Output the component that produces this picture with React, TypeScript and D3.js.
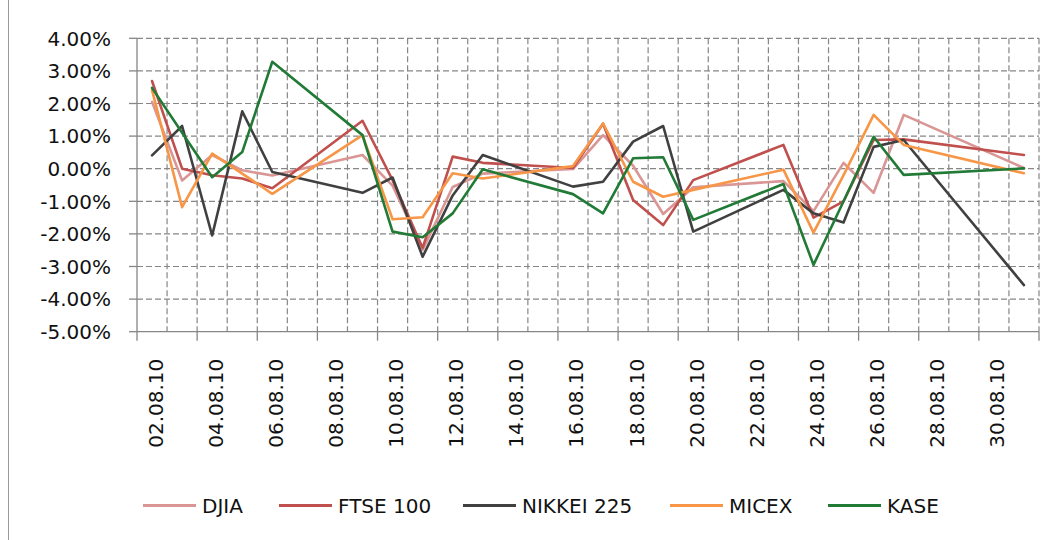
import * as d3 from 'd3';

// trading days shown on the chart (no Aug 30 in the source table)
const dates = [
  '02.08.10', '03.08.10', '04.08.10', '05.08.10', '06.08.10',
  '09.08.10', '10.08.10', '11.08.10', '12.08.10', '13.08.10',
  '16.08.10', '17.08.10', '18.08.10', '19.08.10', '20.08.10',
  '23.08.10', '24.08.10', '25.08.10', '26.08.10', '27.08.10',
  '31.08.10',
];

// daily change, %
const djia = [2.05, -0.36, 0.42, -0.05, -0.21, 0.42, -0.52, -2.49, -0.56, -0.15, -0.01, 1.03, 0.09, -1.39, -0.57, -0.38, -1.3, 0.18, -0.74, 1.65, 0.02];
const ftse = [2.69, 0.0, -0.2, -0.3, -0.6, 1.47, -0.35, -2.43, 0.37, 0.18, 0.02, 1.38, -0.96, -1.73, -0.35, 0.73, -1.5, -1.0, 0.88, 0.9, 0.42];
const nikkei = [0.41, 1.31, -2.05, 1.76, -0.1, -0.74, -0.27, -2.7, -0.82, 0.42, -0.55, -0.4, 0.83, 1.31, -1.93, -0.65, -1.37, -1.65, 0.67, 0.88, -3.57];
const micex = [2.41, -1.18, 0.46, -0.15, -0.77, 1.03, -1.55, -1.49, -0.14, -0.3, 0.08, 1.39, -0.4, -0.86, -0.65, -0.03, -1.96, -0.2, 1.65, 0.73, -0.14];
const kase = [2.48, 1.1, -0.26, 0.51, 3.28, 1.03, -1.93, -2.1, -1.37, -0.02, -0.78, -1.37, 0.32, 0.35, -1.57, -0.47, -2.95, -1.0, 0.98, -0.19, 0.01];

const seriesNames = ['DJIA', 'FTSE 100', 'NIKKEI 225', 'MICEX', 'KASE'];
const seriesValues = [djia, ftse, nikkei, micex, kase];
const seriesColors = ['#D99694', '#C0504D', '#404040', '#F79646', '#217A35'];

const yTicks = [4, 3, 2, 1, 0, -1, -2, -3, -4, -5];
const xTickLabels = [
  '02.08.10', '04.08.10', '06.08.10', '08.08.10', '10.08.10', '12.08.10', '14.08.10', '16.08.10',
  '18.08.10', '20.08.10', '22.08.10', '24.08.10', '26.08.10', '28.08.10', '30.08.10',
];

const W = 1058;
const H = 540;
const PLOT = { left: 137, right: 1039, top: 38.3, bottom: 331.7 };
const LEGEND_X = [143, 279, 463, 670, 828];
const LEGEND_Y = 505.5;
const FONT = '"DejaVu Sans", sans-serif';
const GRID = '#868686';

const parse = d3.utcParse('%d.%m.%y');
const start = parse('02.08.10') as Date;
const end = parse('01.09.10') as Date;

export default function App() {
  const x = d3.scaleUtc().domain([start, end]).range([PLOT.left, PLOT.right]);
  const y = d3.scaleLinear().domain([-5, 4]).range([PLOT.bottom, PLOT.top]);
  const mid = (d: Date) => x(d3.utcHour.offset(d, 12));

  const days = d3.utcDay.range(start, d3.utcDay.offset(end, 1));
  const majorTicks = d3.utcDay.range(start, d3.utcDay.offset(end, 1), 2);
  const parsedDates = dates.map((d) => parse(d) as Date);

  const line = d3.line<number>()
    .x((_, i) => mid(parsedDates[i]))
    .y((v) => y(v));

  const fmt = (v: number) => v.toFixed(2) + '%';

  return (
    <svg width={W} height={H} style={{ position: 'absolute', left: 0, top: 0, background: '#fff' }}>
      <rect x={0} y={0} width={W} height={H} fill="#fff" />
      <line x1={8.5} x2={8.5} y1={0} y2={H} stroke="#9a9a9a" strokeWidth={1} />

      {/* horizontal grid */}
      {yTicks.filter((t) => t !== -5).map((t) => (
        <line key={'h' + t} x1={PLOT.left} x2={PLOT.right} y1={y(t)} y2={y(t)}
          stroke={GRID} strokeWidth={1.2} strokeDasharray="6,3" />
      ))}
      {/* vertical grid, one per day */}
      {days.slice(1).map((d) => (
        <line key={'v' + d.getTime()} x1={x(d)} x2={x(d)} y1={PLOT.top} y2={PLOT.bottom}
          stroke={GRID} strokeWidth={1.2} strokeDasharray="6,3" />
      ))}

      {/* axes */}
      <line x1={PLOT.left} x2={PLOT.left} y1={PLOT.top} y2={PLOT.bottom} stroke={GRID} strokeWidth={1.3} />
      <line x1={PLOT.left} x2={PLOT.right} y1={PLOT.bottom} y2={PLOT.bottom} stroke={GRID} strokeWidth={1.3} />
      {yTicks.map((t) => (
        <line key={'yt' + t} x1={PLOT.left - 8} x2={PLOT.left} y1={y(t)} y2={y(t)} stroke={GRID} strokeWidth={1.3} />
      ))}
      {majorTicks.map((d) => (
        <line key={'xt' + d.getTime()} x1={x(d)} x2={x(d)} y1={PLOT.bottom} y2={PLOT.bottom + 9} stroke={GRID} strokeWidth={1.3} />
      ))}

      {/* y labels */}
      {yTicks.map((t) => (
        <text key={'yl' + t} x={111} y={y(t)} dy="0.36em" textAnchor="end"
          fontFamily={FONT} fontSize={20} fill="#111">{fmt(t)}</text>
      ))}

      {/* x labels */}
      {xTickLabels.map((l) => (
        <text key={'xl' + l} transform={`translate(${mid(parse(l) as Date) + 10.5},${PLOT.bottom + 27}) rotate(-90)`}
          textAnchor="end" fontFamily={FONT} fontSize={20} fill="#111">{l}</text>
      ))}

      {/* series */}
      {seriesValues.map((vals, i) => (
        <path key={seriesNames[i]} d={line(vals) ?? ''} fill="none" stroke={seriesColors[i]}
          strokeWidth={2.6} strokeLinejoin="round" strokeLinecap="round" />
      ))}

      {/* legend */}
      {seriesNames.map((n, i) => (
        <g key={'lg' + n} transform={`translate(${LEGEND_X[i]},${LEGEND_Y})`}>
          <line x1={0} x2={53} y1={0} y2={0} stroke={seriesColors[i]} strokeWidth={3} />
          <text x={59} y={0} dy="0.36em" fontFamily={FONT} fontSize={20} fill="#111">{n}</text>
        </g>
      ))}
    </svg>
  );
}
